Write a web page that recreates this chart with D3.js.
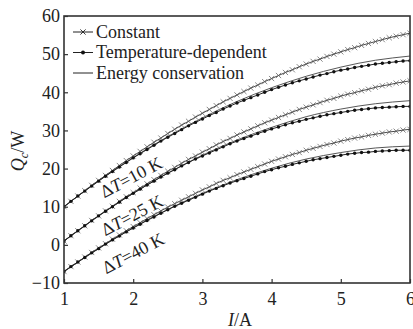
<!DOCTYPE html>
<html>
<head>
<meta charset="utf-8">
<script src="https://cdn.jsdelivr.net/npm/d3@7"></script>
<style>
body { margin: 0; background: #fff; }
svg { display: block; }
text { font-family: "Liberation Serif", "Times New Roman", serif; fill: #222; }
</style>
</head>
<body>
<svg id="chart" width="413" height="329"></svg>
<script>
// current I (A), fine grid for marker series, coarse grid for the energy-conservation line
const currentFine = [1.0,1.1,1.2,1.3,1.4,1.5,1.6,1.7,1.8,1.9,2.0,2.1,2.2,2.3,2.4,2.5,2.6,2.7,2.8,2.9,3.0,
  3.1,3.2,3.3,3.4,3.5,3.6,3.7,3.8,3.9,4.0,4.1,4.2,4.3,4.4,4.5,4.6,4.7,4.8,4.9,5.0,
  5.1,5.2,5.3,5.4,5.5,5.6,5.7,5.8,5.9,6.0];
const currentCoarse = [1,1.5,2,2.5,3,3.5,4,4.5,5,5.5,6];

// Q_c (W)
const constant10 = [10.0,11.4,12.8,14.2,15.6,16.9,18.2,19.5,20.8,22.1,23.3,24.5,25.7,26.9,28.0,29.2,30.3,31.4,32.4,33.5,34.5,
  35.5,36.5,37.5,38.4,39.3,40.2,41.1,41.9,42.8,43.6,44.4,45.2,45.9,46.7,47.4,48.1,48.7,49.4,50.0,50.6,
  51.2,51.7,52.3,52.8,53.3,53.8,54.3,54.7,55.1,55.5];
const tempDep10 = [10.0,11.4,12.8,14.1,15.4,16.7,18.0,19.2,20.4,21.6,22.8,23.9,25.0,26.1,27.2,28.2,29.2,30.2,31.2,32.1,33.0,
  33.9,34.7,35.6,36.4,37.2,37.9,38.6,39.3,40.0,40.7,41.3,41.9,42.5,43.0,43.5,44.0,44.5,44.9,45.4,45.8,
  46.1,46.5,46.8,47.1,47.4,47.6,47.8,48.0,48.2,48.3];
const energy10 = [10.0,16.8,22.9,28.4,33.3,37.6,41.2,44.2,46.6,48.4,49.5];

const constant25 = [1.0,2.4,3.7,5.0,6.4,7.6,8.9,10.1,11.4,12.6,13.7,14.9,16.0,17.1,18.2,19.3,20.3,21.4,22.4,23.3,24.3,
  25.2,26.2,27.1,27.9,28.8,29.6,30.4,31.2,32.0,32.7,33.4,34.1,34.8,35.5,36.1,36.7,37.3,37.9,38.4,39.0,
  39.5,39.9,40.4,40.8,41.3,41.7,42.0,42.4,42.7,43.0];
const tempDep25 = [1.0,2.4,3.7,5.0,6.3,7.6,8.8,10.0,11.2,12.4,13.5,14.6,15.7,16.7,17.8,18.8,19.7,20.7,21.6,22.5,23.3,
  24.1,24.9,25.7,26.5,27.2,27.9,28.5,29.2,29.8,30.4,30.9,31.5,32.0,32.4,32.9,33.3,33.7,34.1,34.4,34.7,
  35.0,35.3,35.5,35.7,35.9,36.0,36.1,36.2,36.3,36.3];
const energy25 = [1.0,7.6,13.5,18.8,23.5,27.5,30.8,33.6,35.6,37.0,37.8];

const constant40 = [-7.0,-5.7,-4.5,-3.2,-2.0,-0.8,0.3,1.5,2.6,3.7,4.8,5.8,6.9,7.9,8.9,9.9,10.8,11.7,12.6,13.5,14.4,
  15.2,16.1,16.9,17.6,18.4,19.1,19.8,20.5,21.2,21.9,22.5,23.1,23.7,24.2,24.8,25.3,25.8,26.3,26.7,27.2,
  27.6,28.0,28.3,28.7,29.0,29.3,29.6,29.8,30.1,30.3];
const tempDep40 = [-7.0,-5.7,-4.5,-3.3,-2.1,-1.0,0.2,1.3,2.3,3.4,4.4,5.4,6.4,7.3,8.3,9.2,10.1,10.9,11.7,12.5,13.3,
  14.1,14.8,15.5,16.2,16.8,17.4,18.0,18.6,19.2,19.7,20.2,20.6,21.1,21.5,21.9,22.3,22.6,22.9,23.2,23.5,
  23.8,24.0,24.2,24.3,24.5,24.6,24.7,24.8,24.8,24.8];
const energy40 = [-7.0,-1.0,4.5,9.3,13.5,17.1,20.1,22.5,24.2,25.4,25.9];

const deltaT = ["10", "25", "40"];
const xTicks = [1, 2, 3, 4, 5, 6];
const yTicks = [-10, 0, 10, 20, 30, 40, 50, 60];
const legendLabels = ["Constant", "Temperature-dependent", "Energy conservation"];

const groups = [
  { dT: deltaT[0], constant: constant10, temp: tempDep10, energy: energy10 },
  { dT: deltaT[1], constant: constant25, temp: tempDep25, energy: energy25 },
  { dT: deltaT[2], constant: constant40, temp: tempDep40, energy: energy40 }
];

const svg = d3.select("#chart");
const margin = { left: 64, right: 3, top: 16, bottom: 46 };
const width = 413, height = 329;

const x = d3.scaleLinear().domain([1, 6]).range([margin.left, width - margin.right]);
const y = d3.scaleLinear().domain([-10, 60]).range([height - margin.bottom, margin.top]);

const zip = (xs, ys) => xs.map((v, i) => [v, ys[i]]);

const lineLinear = d3.line().x(d => x(d[0])).y(d => y(d[1]));
const lineSmooth = d3.line().x(d => x(d[0])).y(d => y(d[1])).curve(d3.curveNatural);

const plot = svg.append("g");
plot.append("clipPath").attr("id", "clip")
  .append("rect").attr("x", x(1)).attr("y", y(60)).attr("width", x(6) - x(1)).attr("height", y(-10) - y(60));
const curves = plot.append("g").attr("clip-path", "url(#clip)");

const crossPath = "M-2.6,-2.6L2.6,2.6M-2.6,2.6L2.6,-2.6";

groups.forEach(g => {
  const cPts = zip(currentFine, g.constant);
  const tPts = zip(currentFine, g.temp);
  const ePts = zip(currentCoarse, g.energy);

  curves.append("path").attr("d", lineSmooth(ePts))
    .attr("fill", "none").attr("stroke", "#444").attr("stroke-width", 0.9);

  curves.append("path").attr("d", lineLinear(cPts))
    .attr("fill", "none").attr("stroke", "#333").attr("stroke-width", 0.9);
  curves.append("g").selectAll("path").data(cPts).join("path")
    .attr("transform", d => `translate(${x(d[0])},${y(d[1])})`)
    .attr("d", crossPath).attr("stroke", "#555").attr("stroke-width", 0.7).attr("fill", "none");

  curves.append("path").attr("d", lineLinear(tPts))
    .attr("fill", "none").attr("stroke", "#222").attr("stroke-width", 1);
  curves.append("g").selectAll("circle").data(tPts).join("circle")
    .attr("cx", d => x(d[0])).attr("cy", d => y(d[1])).attr("r", 1.7).attr("fill", "#111");
});

// ΔT labels
const labelPos = [[131, 177], [132, 215], [133, 253]];
groups.forEach((g, i) => {
  const t = svg.append("text")
    .attr("transform", `translate(${labelPos[i][0]},${labelPos[i][1]}) rotate(-28)`)
    .attr("text-anchor", "middle").attr("dy", "0.35em")
    .style("font-size", "18px");
  t.append("tspan").text("\u0394");
  t.append("tspan").style("font-style", "italic").text("T");
  t.append("tspan").text("=" + g.dT + " K");
});

// frame
svg.append("rect")
  .attr("x", x(1)).attr("y", y(60)).attr("width", x(6) - x(1)).attr("height", y(-10) - y(60))
  .attr("fill", "none").attr("stroke", "#333").attr("stroke-width", 1.6);

// axes (ticks pointing inward)
const xAxis = svg.append("g").attr("transform", `translate(0,${y(-10)})`)
  .call(d3.axisBottom(x).tickValues(xTicks).tickSizeInner(-4).tickSizeOuter(0).tickPadding(9).tickFormat(d3.format("d")));
const yAxis = svg.append("g").attr("transform", `translate(${x(1)},0)`)
  .call(d3.axisLeft(y).tickValues(yTicks).tickSizeInner(-4).tickSizeOuter(0).tickPadding(4)
    .tickFormat(d => d < 0 ? "\u2212" + Math.abs(d) : d));
[xAxis, yAxis].forEach(a => {
  a.select(".domain").remove();
  a.selectAll(".tick line").attr("stroke", "#333").attr("stroke-width", 1.2);
  a.selectAll(".tick text").style("font-size", "18px").attr("fill", "#222")
    .style("font-family", "'Liberation Serif', 'Times New Roman', serif");
});

// axis titles
const xt = svg.append("text").attr("x", 240).attr("y", 326).attr("text-anchor", "middle").style("font-size", "18px");
xt.append("tspan").style("font-style", "italic").text("I");
xt.append("tspan").text("/A");

const yt = svg.append("text").attr("transform", "translate(24,151) rotate(-90)")
  .attr("text-anchor", "middle").style("font-size", "18px");
yt.append("tspan").style("font-style", "italic").text("Q");
yt.append("tspan").style("font-style", "italic").style("font-size", "12px").attr("dy", 4).text("c");
yt.append("tspan").attr("dy", -4).text("/W");

// legend
const legend = svg.append("g");
legendLabels.forEach((lab, i) => {
  const ly = 32 + i * 20.5;
  const row = legend.append("g");
  row.append("line").attr("x1", 73).attr("x2", 93).attr("y1", ly).attr("y2", ly)
    .attr("stroke", "#222").attr("stroke-width", 1);
  if (i === 0) {
    row.append("path").attr("transform", `translate(83,${ly})`).attr("d", crossPath)
      .attr("stroke", "#222").attr("stroke-width", 0.9).attr("fill", "none");
  } else if (i === 1) {
    row.append("circle").attr("cx", 83).attr("cy", ly).attr("r", 2).attr("fill", "#111");
  }
  row.append("text").attr("x", 96).attr("y", ly).attr("dy", "0.33em")
    .style("font-size", "18px").text(lab);
});
</script>
</body>
</html>
